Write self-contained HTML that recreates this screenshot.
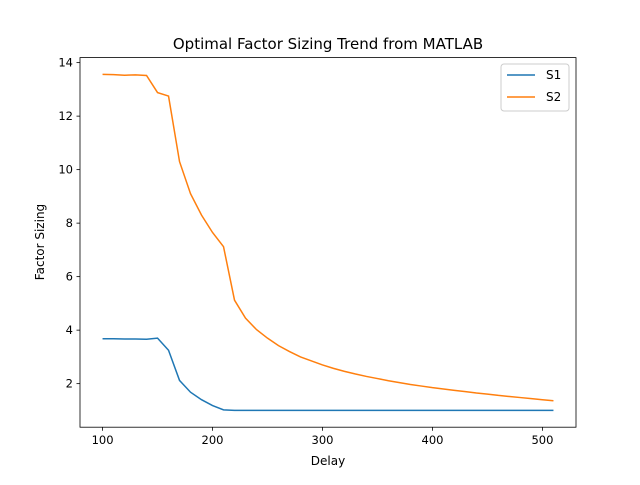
<!DOCTYPE html>
<html><head><meta charset="utf-8"><style>
body{margin:0;background:#fff;}
svg text{font-family:"DejaVu Sans","Liberation Sans",sans-serif;fill:#000;}
</style></head><body>
<svg id="chart" width="640" height="480" xmlns="http://www.w3.org/2000/svg">
<rect width="640" height="480" fill="#fff"/>
<text x="328" y="49" font-size="15" text-anchor="middle">Optimal Factor Sizing Trend from MATLAB</text>
<g id="plot"></g>
<rect x="80" y="57.6" width="496" height="369.6" fill="none" stroke="#000" stroke-width="0.8"/>
<text x="328" y="465" font-size="12" text-anchor="middle">Delay</text>
<text x="44" y="242" font-size="12" text-anchor="middle" transform="rotate(-90 44 242)">Factor Sizing</text>
<g>
<rect x="501" y="64" width="68" height="47" rx="3" fill="#fff" stroke="#ccc" stroke-width="1"/>
<line x1="507" y1="75" x2="535" y2="75" stroke="#1f77b4" stroke-width="1.5"/>
<text x="546" y="79" font-size="12">S1</text>
<line x1="507" y1="97" x2="535" y2="97" stroke="#ff7f0e" stroke-width="1.5"/>
<text x="546" y="101" font-size="12">S2</text>
</g>
</svg>
<script>
const delays=[100,110,120,130,140,150,160,170,180,190,200,210,220,230,240,250,260,270,280,290,300,310,320,330,340,350,360,370,380,390,400,410,420,430,440,450,460,470,480,490,500,510];
const s1=[3.68,3.68,3.67,3.67,3.66,3.70,3.25,2.12,1.68,1.40,1.18,1.02,1.0,1.0,1.0,1.0,1.0,1.0,1.0,1.0,1.0,1.0,1.0,1.0,1.0,1.0,1.0,1.0,1.0,1.0,1.0,1.0,1.0,1.0,1.0,1.0,1.0,1.0,1.0,1.0,1.0,1.0];
const s2=[13.56,13.55,13.53,13.54,13.52,12.88,12.75,10.3,9.1,8.3,7.65,7.12,5.12,4.45,4.02,3.7,3.42,3.2,3.0,2.85,2.7,2.57,2.46,2.36,2.27,2.19,2.11,2.04,1.97,1.91,1.85,1.8,1.75,1.7,1.65,1.61,1.56,1.52,1.48,1.44,1.4,1.36];
const xTicks=[100,200,300,400,500];
const yTicks=[2,4,6,8,10,12,14];
const NS="http://www.w3.org/2000/svg";
const L=80,R=576,T=57.6,B=427.2;
const all=s1.concat(s2);
const xmin0=Math.min(...delays),xmax0=Math.max(...delays),ymin0=Math.min(...all),ymax0=Math.max(...all);
const xm=(xmax0-xmin0)*0.05,ym=(ymax0-ymin0)*0.05;
const x0=xmin0-xm,x1=xmax0+xm,y0=ymin0-ym,y1=ymax0+ym;
const X=v=>L+(v-x0)/(x1-x0)*(R-L);
const Y=v=>B-(v-y0)/(y1-y0)*(B-T);
const g=document.getElementById('plot');
function mk(t,a){const e=document.createElementNS(NS,t);for(const k in a)e.setAttribute(k,a[k]);g.appendChild(e);return e;}
xTicks.forEach(v=>{
  const t=mk('line',{x1:X(v),x2:X(v),y1:B,y2:B+3.5,stroke:'#000','stroke-width':0.8});
  
  
  const l=mk('text',{x:X(v),y:B+17,'font-size':11.5,'text-anchor':'middle'});l.textContent=v;
  
  
});
yTicks.forEach(v=>{
  const t=mk('line',{x1:L-3.5,x2:L,y1:Y(v),y2:Y(v),stroke:'#000','stroke-width':0.8});
  
  
  const l=mk('text',{x:L-7,y:Y(v)+4,'font-size':11.5,'text-anchor':'end'});l.textContent=v;
  
  
});
[[s1,'#1f77b4','series-s1'],[s2,'#ff7f0e','series-s2']].forEach(([d,c,n])=>{
  const p=mk('polyline',{points:delays.map((x,i)=>X(x)+','+Y(d[i])).join(' '),fill:'none',stroke:c,'stroke-width':1.5});
  
  
});
</script>
</body></html>
